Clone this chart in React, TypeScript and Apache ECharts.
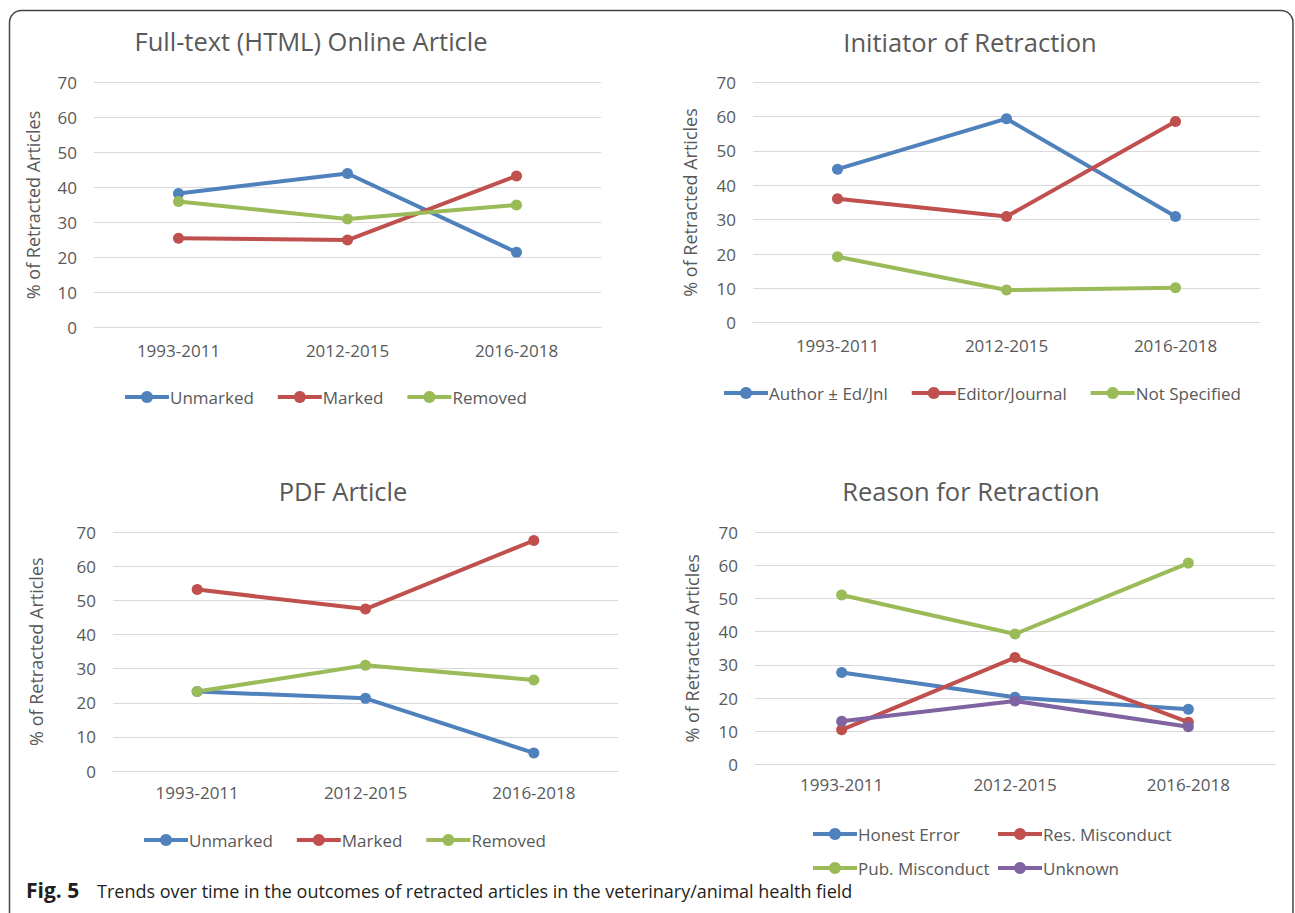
import React, { useEffect, useRef } from "react";
import * as echarts from "echarts";

const categories = ["1993-2011", "2012-2015", "2016-2018"];

// Chart 1: Full-text (HTML) Online Article
const htmlUnmarked = [38.3, 44.0, 21.5];
const htmlMarked = [25.5, 25.0, 43.3];
const htmlRemoved = [36.0, 31.0, 35.0];

// Chart 2: Initiator of Retraction
const initAuthor = [44.7, 59.4, 30.9];
const initEditor = [36.1, 30.9, 58.6];
const initNotSpecified = [19.2, 9.5, 10.2];

// Chart 3: PDF Article
const pdfUnmarked = [23.3, 21.3, 5.3];
const pdfMarked = [53.2, 47.5, 67.6];
const pdfRemoved = [23.3, 31.0, 26.7];

// Chart 4: Reason for Retraction
const reasonHonest = [27.7, 20.2, 16.6];
const reasonRes = [10.4, 32.2, 12.7];
const reasonPub = [51.1, 39.3, 60.7];
const reasonUnknown = [13.0, 19.1, 11.3];

const titles = [
  "Full-text (HTML) Online Article",
  "Initiator of Retraction",
  "PDF Article",
  "Reason for Retraction",
];
const yAxisName = "% of Retracted Articles";
const caption = "Trends over time in the outcomes of retracted articles in the veterinary/animal health field";

const BLUE = "#4F81BD";
const RED = "#C0504D";
const GREEN = "#9BBB59";
const PURPLE = "#8064A2";
const FONT = "'Open Sans', sans-serif";
const TXT = "#595959";

export default function App() {
  const ref = useRef<HTMLDivElement>(null);

  useEffect(() => {
    if (!ref.current) return;
    const chart = echarts.init(ref.current, undefined, { renderer: "svg" });

    const grids = [
      { left: 94, top: 82.3, width: 507, height: 245.4 },
      { left: 753, top: 82.3, width: 507, height: 240.4 },
      { left: 113, top: 532.3, width: 505, height: 238.7 },
      { left: 755, top: 532.3, width: 520, height: 232 },
    ];
    const labelMargins = [14, 14, 13, 12];
    const nameGaps = [52, 54, 68, 54];

    const xAxes = grids.map((_, i) => ({
      type: "category",
      gridIndex: i,
      data: categories,
      boundaryGap: true,
      axisLine: { show: true, lineStyle: { color: "#d9d9d9", width: 1 } },
      axisTick: { show: false },
      axisLabel: { color: TXT, fontSize: 17, fontFamily: FONT, margin: labelMargins[i] },
    }));
    const yAxes = grids.map((_, i) => ({
      type: "value",
      gridIndex: i,
      min: 0,
      max: 70,
      interval: 10,
      name: yAxisName,
      nameLocation: "middle",
      nameGap: nameGaps[i],
      nameRotate: 90,
      nameTextStyle: { color: TXT, fontSize: 18, fontFamily: FONT },
      axisLine: { show: false },
      axisTick: { show: false },
      axisLabel: { color: TXT, fontSize: 17, fontFamily: FONT, margin: 17 },
      splitLine: { show: true, lineStyle: { color: "#d9d9d9", width: 1 } },
    }));

    const mk = (name: string, data: number[], color: string, idx: number) => ({
      type: "line",
      name,
      data,
      xAxisIndex: idx,
      yAxisIndex: idx,
      symbol: "circle",
      symbolSize: 11,
      lineStyle: { color, width: 4 },
      itemStyle: { color },
      color,
    });

    const series = [
      mk("Unmarked", htmlUnmarked, BLUE, 0),
      mk("Marked", htmlMarked, RED, 0),
      mk("Removed", htmlRemoved, GREEN, 0),
      mk("Author ± Ed/Jnl", initAuthor, BLUE, 1),
      mk("Editor/Journal", initEditor, RED, 1),
      mk("Not Specified", initNotSpecified, GREEN, 1),
      mk("Unmarked", pdfUnmarked, BLUE, 2),
      mk("Marked", pdfMarked, RED, 2),
      mk("Removed", pdfRemoved, GREEN, 2),
      mk("Honest Error", reasonHonest, BLUE, 3),
      mk("Res. Misconduct", reasonRes, RED, 3),
      mk("Pub. Misconduct", reasonPub, GREEN, 3),
      mk("Unknown", reasonUnknown, PURPLE, 3),
    ];

    const leg = (data: string[], left: number, cy: number, gap: number) => ({
      data,
      left,
      top: cy - 12,
      orient: "horizontal",
      itemWidth: 44,
      itemHeight: 15,
      itemGap: gap,
      selectedMode: false,
      lineStyle: { width: 4 },
      textStyle: { color: TXT, fontSize: 17, fontFamily: FONT, lineHeight: 24, padding: [0, 0, 0, -4] },
    });

    const legends = [
      leg(["Unmarked", "Marked", "Removed"], 118, 392, 22),
      leg(["Author ± Ed/Jnl", "Editor/Journal", "Not Specified"], 717, 388, 22),
      leg(["Unmarked", "Marked", "Removed"], 137, 835, 22),
      leg(["Honest Error"], 806, 829, 10),
      leg(["Res. Misconduct"], 991, 829, 10),
      leg(["Pub. Misconduct"], 806, 863, 10),
      leg(["Unknown"], 991, 863, 10),
    ];

    const titlePos = [
      [311, 41],
      [970, 42],
      [343, 491],
      [971, 491],
    ];

    const graphic: any[] = [
      {
        type: "rect",
        shape: { x: 9.5, y: 10.5, width: 1283.5, height: 920, r: 12 },
        style: { fill: "none", stroke: "#444444", lineWidth: 1.5 },
        silent: true,
      },
      ...titles.map((t, i) => ({
        type: "text",
        x: titlePos[i][0],
        y: titlePos[i][1],
        style: {
          text: t,
          fill: TXT,
          fontSize: 25.5,
          fontFamily: FONT,
          align: "center",
          verticalAlign: "middle",
        },
      })),
      {
        type: "text",
        x: 26,
        y: 890,
        style: {
          text: "Fig. 5",
          fill: "#231f20",
          fontSize: 21,
          fontWeight: "bold",
          fontFamily: FONT,
          align: "left",
          verticalAlign: "middle",
        },
      },
      {
        type: "text",
        x: 97,
        y: 891,
        style: {
          text: caption,
          fill: "#231f20",
          fontSize: 18,
          fontFamily: FONT,
          align: "left",
          verticalAlign: "middle",
        },
      },
    ];

    chart.setOption({
      animation: false,
      backgroundColor: "#ffffff",
      textStyle: { fontFamily: FONT },
      grid: grids,
      xAxis: xAxes,
      yAxis: yAxes,
      legend: legends,
      series,
      graphic,
    } as any);

    return () => chart.dispose();
  }, []);

  return (
    <div
      ref={ref}
      style={{ position: "fixed", left: 0, top: 0, width: 1295, height: 913, background: "#fff" }}
    />
  );
}
